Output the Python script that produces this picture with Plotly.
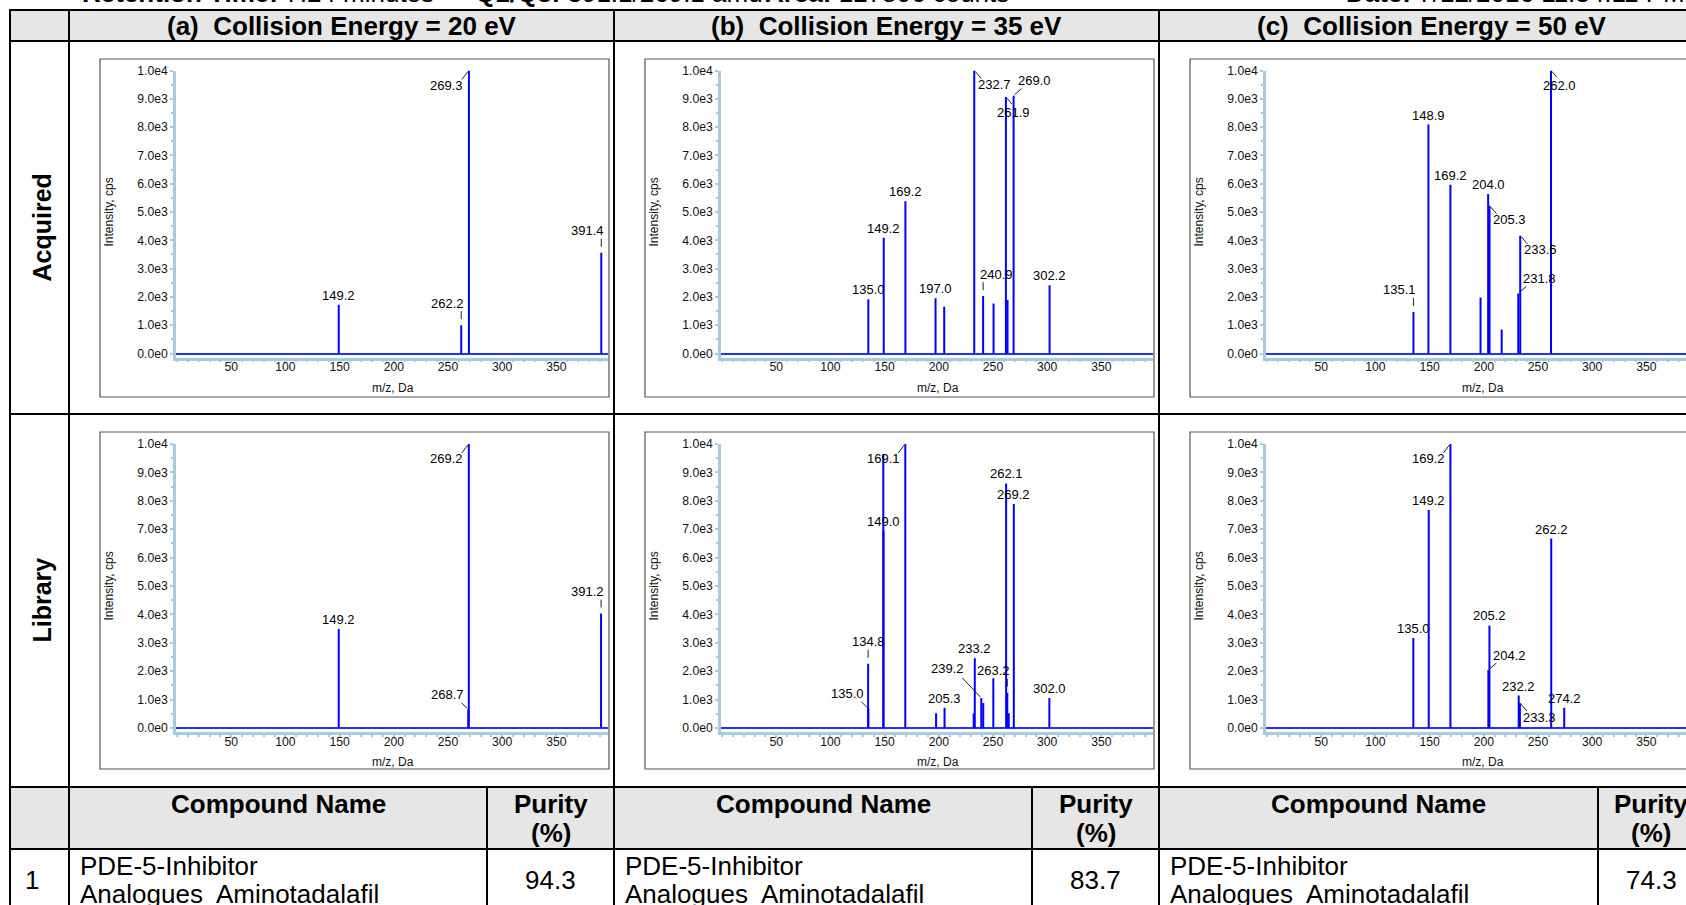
import plotly.graph_objects as go

W, H = 1686, 905

# ------------------------------------------------------------------ data
ENERGIES = ["20", "35", "50"]
PANEL_LETTERS = ["a", "b", "c"]
ROW_NAMES = ["Acquired", "Library"]
X_TICKS = [50, 100, 150, 200, 250, 300, 350]
Y_TICKS = [0, 1000, 2000, 3000, 4000, 5000, 6000, 7000, 8000, 9000, 10000]
Y_TICK_LABELS = ["0.0e0", "1.0e3", "2.0e3", "3.0e3", "4.0e3", "5.0e3",
                 "6.0e3", "7.0e3", "8.0e3", "9.0e3", "1.0e4"]

# (a) 20 eV
A_ACQ_MZ = [149.2, 262.2, 269.3, 391.4]
A_ACQ_INT = [1720, 1000, 10000, 3560]
A_ACQ_LBL = ["149.2", "262.2", "269.3", "391.4"]
A_LIB_MZ = [149.2, 268.7, 269.2, 391.2]
A_LIB_INT = [3490, 650, 10000, 4030]
A_LIB_LBL = ["149.2", "268.7", "269.2", "391.2"]

# (b) 35 eV
B_ACQ_MZ = [135.0, 149.2, 169.2, 197.0, 205.0, 232.7, 240.9, 250.5, 261.9, 263.4, 269.0, 302.2]
B_ACQ_INT = [1920, 4090, 5380, 1950, 1650, 10000, 2030, 1770, 9060, 1890, 9110, 2410]
B_ACQ_LBL = ["135.0", "149.2", "169.2", "197.0", "", "232.7", "240.9", "", "261.9", "", "269.0", "302.2"]
B_LIB_MZ = [134.8, 135.0, 148.8, 149.0, 169.1, 197.5, 205.3, 232.2, 233.2, 239.2, 241.0,
            250.3, 262.1, 263.2, 264.5, 269.2, 302.0]
B_LIB_INT = [2260, 680, 9650, 6950, 10000, 520, 710, 520, 2460, 1060, 880,
             1750, 8610, 1240, 520, 7890, 1060]
B_LIB_LBL = ["134.8", "135.0", "", "149.0", "169.1", "", "205.3", "", "233.2", "239.2", "",
             "", "262.1", "263.2", "", "269.2", "302.0"]

# (c) 50 eV
C_ACQ_MZ = [135.1, 148.9, 169.2, 197.0, 204.0, 205.3, 216.5, 231.8, 233.6, 262.0]
C_ACQ_INT = [1470, 8090, 5960, 1980, 5640, 5220, 850, 2120, 4160, 10000]
C_ACQ_LBL = ["135.1", "148.9", "169.2", "", "204.0", "205.3", "", "231.8", "233.6", "262.0"]
C_LIB_MZ = [135.0, 149.2, 169.2, 204.2, 205.2, 232.2, 233.3, 262.2, 274.2]
C_LIB_INT = [3170, 7680, 10000, 2040, 3610, 1140, 880, 6670, 710]
C_LIB_LBL = ["135.0", "149.2", "169.2", "204.2", "205.2", "232.2", "233.3", "262.2", "274.2"]

# library search result table
HIT_RANK = ["1", "1", "1"]
COMPOUND_LINE1 = ["PDE-5-Inhibitor"] * 3
COMPOUND_LINE2 = ["Analogues\u00a0 Aminotadalafil"] * 3
PURITY = [94.3, 83.7, 74.3]

# header line (cropped at the top of the picture)
INFO_KEYS = ["Retention Time:", "Q1/Q3:", "Area:", "Date:"]
INFO_VALUES = ["7.24 minutes", "391.1/269.1 amu", "127806 counts", "7/12/2016 11:34:11 PM"]

# ------------------------------------------------------------------ label placement styles
A_ACQ_POS = ["top", "stemL", "dl", "stemL"]
A_LIB_POS = ["top", "ul", "dl", "stemL"]
B_ACQ_POS = ["top", "top", "top", "top", "", "dr", "stemR", "", "drn", "", "ur", "top"]
B_LIB_POS = ["stem", "ul", "", "top", "dl", "", "top", "", "top", "ulf", "",
             "", "top", "stemL", "", "top", "top"]
C_ACQ_POS = ["stemL", "top", "top", "", "top", "dr", "", "ur", "dr", "drn"]
C_LIB_POS = ["top", "top", "dl", "ur", "top", "top", "dr", "top", "top"]

PANELS = [
    [(A_ACQ_MZ, A_ACQ_INT, A_ACQ_LBL, A_ACQ_POS), (B_ACQ_MZ, B_ACQ_INT, B_ACQ_LBL, B_ACQ_POS),
     (C_ACQ_MZ, C_ACQ_INT, C_ACQ_LBL, C_ACQ_POS)],
    [(A_LIB_MZ, A_LIB_INT, A_LIB_LBL, A_LIB_POS), (B_LIB_MZ, B_LIB_INT, B_LIB_LBL, B_LIB_POS),
     (C_LIB_MZ, C_LIB_INT, C_LIB_LBL, C_LIB_POS)],
]

# text centre offset (dx, dy screen-down) and leader line (start, end) in px relative to peak top
STYLE = {
    "top": ((0, -9.5), None),
    "stem": ((0, -22), ((0, -14), (0, -6))),
    "stemL": ((-14, -22), ((0, -14), (0, -6))),
    "stemR": ((13, -22), ((0, -14), (0, -6))),
    "dl": ((-22, 15), ((-7, 9), (-1, 1))),
    "dr": ((20, 14), ((1, 1), (7, 8))),
    "drn": ((8, 15), ((1, 1), (6, 7))),
    "ur": ((21, -15), ((1, -1), (8, -7))),
    "ul": ((-21, -15), ((-7, -7), (-1, -1))),
    "ulf": ((-34, -29), ((-19, -20), (-1, -1))),
}

# ------------------------------------------------------------------ geometry (px)
FONT = "Liberation Sans, Arial, Helvetica, sans-serif"
COL_LEFT = [69, 614, 1159]
COL_W = 545
TABLE_LEFT = 10
ROW_LINES = [10, 41, 414, 787, 849]
NAME_RIGHT = [487, 1032, 1598]
FRAME_TOP = [59, 432]
FRAME_BOT = [397, 769]
Y_TOP_PX = [70.5, 444]
Y_ZERO_PX = [353.5, 728]
PXU = 54.2 / 50.0
Y_MIN = -150
AXIS_BLUE = "#a9cbe0"
TICK_SIZE = 12.2
PEAK_SIZE = 13


def px(x):
    return x / W


def py(y):
    return 1 - y / H


def paper_text(x, y, text, size, xanchor="center", yanchor="middle", angle=0, color="#000"):
    return dict(x=px(x), y=py(y), xref="paper", yref="paper", text=text, showarrow=False,
                xanchor=xanchor, yanchor=yanchor, textangle=angle,
                font=dict(family=FONT, size=size, color=color))


fig = go.Figure()
shapes = []
annotations = []
layout_axes = {}

for r in range(2):
    for c in range(3):
        idx = r * 3 + c + 1
        xs = "" if idx == 1 else str(idx)
        frame_l = COL_LEFT[c] + 31
        x0px = frame_l + 77
        dom_l = frame_l + 76
        dom_r = min(frame_l + 508, W)
        xr = [(dom_l - x0px) / PXU, (dom_r - x0px) / PXU]
        pyu = (Y_ZERO_PX[r] - Y_TOP_PX[r]) / 10000.0
        dom_b = Y_ZERO_PX[r] - Y_MIN * pyu
        layout_axes["xaxis" + xs] = dict(
            domain=[px(dom_l), px(dom_r)], range=xr, anchor="y" + xs,
            showgrid=False, zeroline=False, showline=True, linecolor=AXIS_BLUE, linewidth=2.5,
            ticks="outside", ticklen=3, tickcolor=AXIS_BLUE, tickwidth=1.5,
            tickvals=X_TICKS, ticktext=[str(v) for v in X_TICKS], ticklabelstandoff=-7,
            tickfont=dict(family=FONT, size=TICK_SIZE, color="#111"),
            minor=dict(ticks="outside", dtick=10, tick0=0, ticklen=2, tickcolor=AXIS_BLUE, tickwidth=1.5),
            fixedrange=True, automargin=False,
        )
        layout_axes["yaxis" + xs] = dict(
            domain=[py(dom_b), py(Y_TOP_PX[r])], range=[Y_MIN, 10000], anchor="x" + xs,
            showgrid=False, zeroline=True, zerolinecolor="#2233ff", zerolinewidth=1.5,
            showline=True, linecolor=AXIS_BLUE, linewidth=2.5,
            ticks="outside", ticklen=3, tickcolor=AXIS_BLUE, tickwidth=1.5,
            tickvals=Y_TICKS, ticktext=Y_TICK_LABELS,
            tickfont=dict(family=FONT, size=TICK_SIZE, color="#111"),
            minor=dict(ticks="outside", dtick=500, tick0=0, ticklen=2, tickcolor=AXIS_BLUE, tickwidth=1.5),
            fixedrange=True, automargin=False,
        )
        mz, inten, lbl, pos = PANELS[r][c]
        sx, sy = [], []
        for m, h in zip(mz, inten):
            sx += [m, m, None]
            sy += [0, h, None]
        fig.add_trace(go.Scatter(x=sx, y=sy, mode="lines", xaxis="x" + xs, yaxis="y" + xs,
                                 line=dict(color="#0000ff", width=2), hoverinfo="skip",
                                 showlegend=False))
        for m, h, t, p in zip(mz, inten, lbl, pos):
            if not t:
                continue
            (tdx, tdy), lead = STYLE[p]
            annotations.append(dict(x=m, y=h, xref="x" + xs, yref="y" + xs, text=t, showarrow=False,
                                    xshift=tdx, yshift=-tdy, xanchor="center", yanchor="middle",
                                    font=dict(family=FONT, size=PEAK_SIZE, color="#000")))
            if lead:
                (a0, b0), (a1, b1) = lead
                shapes.append(dict(type="line", xref="x" + xs, yref="y" + xs,
                                   xsizemode="pixel", ysizemode="pixel", xanchor=m, yanchor=h,
                                   x0=a0, x1=a1, y0=-b0, y1=-b1,
                                   line=dict(color="#222", width=1)))
        # frame around the spectrum
        shapes.append(dict(type="rect", xref="paper", yref="paper",
                           x0=px(frame_l), x1=px(frame_l + 509), y0=py(FRAME_BOT[r]), y1=py(FRAME_TOP[r]),
                           line=dict(color="#555", width=1.2), layer="below"))
        # axis titles
        annotations.append(paper_text(frame_l + 8.5, (Y_TOP_PX[r] + Y_ZERO_PX[r]) / 2, "Intensity, cps",
                                      12, angle=-90, color="#111"))
        annotations.append(paper_text((x0px + frame_l + 508) / 2, Y_ZERO_PX[r] + 34, "m/z, Da",
                                      12, color="#111"))

# ------------------------------------------------------------------ table
GRAY = "#e6e6e6"
for y0, y1 in [(ROW_LINES[0], ROW_LINES[1]), (ROW_LINES[3], ROW_LINES[4])]:
    shapes.append(dict(type="rect", xref="paper", yref="paper", x0=px(TABLE_LEFT), x1=1.01,
                       y0=py(y1), y1=py(y0), fillcolor=GRAY, line=dict(width=0), layer="below"))
for yl in ROW_LINES:
    shapes.append(dict(type="line", xref="paper", yref="paper", x0=px(TABLE_LEFT - 1), x1=1.01,
                       y0=py(yl), y1=py(yl), line=dict(color="#000", width=2)))
for xl in [TABLE_LEFT] + COL_LEFT:
    shapes.append(dict(type="line", xref="paper", yref="paper", x0=px(xl), x1=px(xl),
                       y0=-0.01, y1=py(ROW_LINES[0]), line=dict(color="#000", width=2)))
for xl in NAME_RIGHT:
    shapes.append(dict(type="line", xref="paper", yref="paper", x0=px(xl), x1=px(xl),
                       y0=-0.01, y1=py(ROW_LINES[3]), line=dict(color="#000", width=2)))

BIG = 26
for c in range(3):
    cl = COL_LEFT[c]
    annotations.append(paper_text(cl + COL_W / 2, 25.5,
                                  "<b>(%s)\u00a0 Collision Energy = %s eV</b>" % (PANEL_LETTERS[c], ENERGIES[c]),
                                  BIG))
    annotations.append(paper_text((cl + NAME_RIGHT[c]) / 2, 804, "<b>Compound Name</b>", BIG))
    pc = (NAME_RIGHT[c] + cl + COL_W) / 2
    annotations.append(paper_text(pc, 804, "<b>Purity</b>", BIG))
    annotations.append(paper_text(pc, 833, "<b>(%)</b>", BIG))
    annotations.append(paper_text(pc, 880, "%.1f" % PURITY[c], BIG))
    annotations.append(paper_text(cl + 9, 865.5, COMPOUND_LINE1[c], BIG, xanchor="left"))
    annotations.append(paper_text(cl + 9, 893.5, COMPOUND_LINE2[c], BIG, xanchor="left"))

annotations.append(paper_text(32, 880, HIT_RANK[0], BIG))
for r, yc in enumerate([227.5, 600.5]):
    annotations.append(paper_text(41, yc, "<b>%s</b>" % ROW_NAMES[r], 25, angle=-90))

INFO_X = [80, 473, 763, 1344]
for k, v, xx in zip(INFO_KEYS, INFO_VALUES, INFO_X):
    annotations.append(paper_text(xx, 10, "<b>%s</b> %s" % (k, v), BIG, xanchor="left", yanchor="bottom"))

fig.update_layout(width=W, height=H, margin=dict(l=0, r=0, t=0, b=0, pad=0, autoexpand=False),
                  autosize=False,
                  paper_bgcolor="white", plot_bgcolor="white", showlegend=False,
                  shapes=shapes, annotations=annotations, **layout_axes)
fig.write_html("out.html")
